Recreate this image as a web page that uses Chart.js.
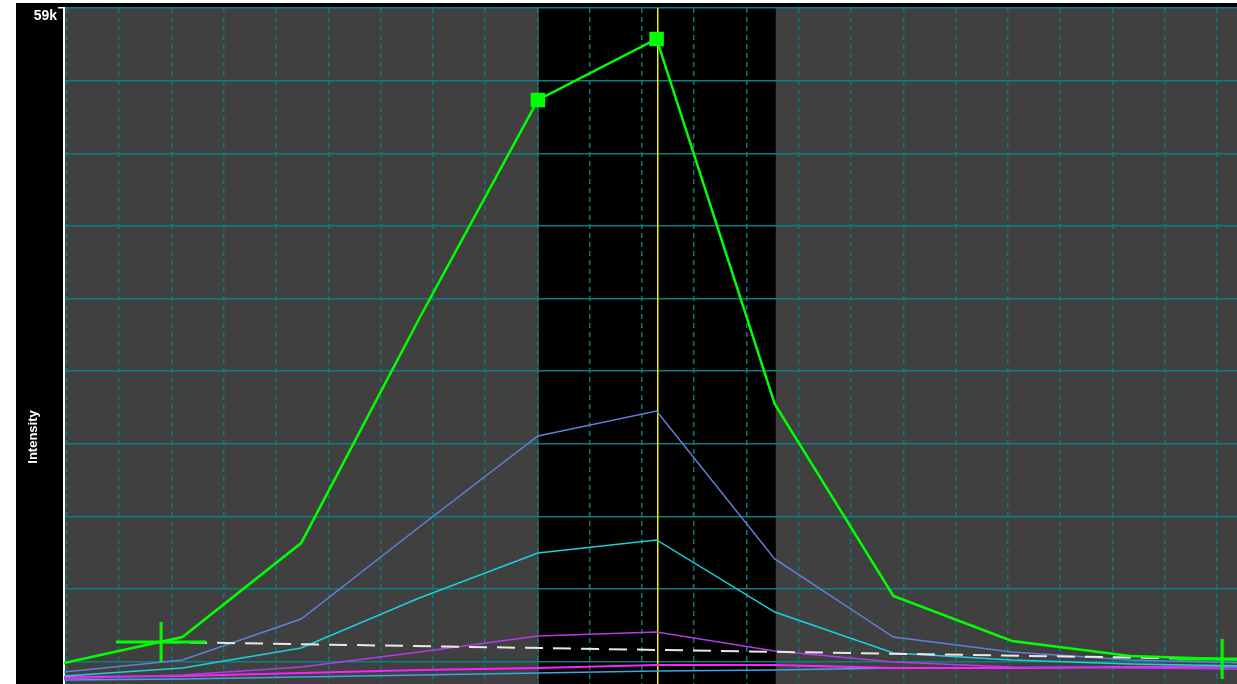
<!DOCTYPE html>
<html>
<head>
<meta charset="utf-8">
<title>Intensity trace</title>
<script src="https://cdn.jsdelivr.net/npm/chart.js@4/dist/chart.umd.min.js"></script>
<style>
  html, body { margin: 0; padding: 0; background: #fff; }
  canvas { display: block; }
</style>
</head>
<body>
<canvas id="trace" width="1237" height="684"></canvas>
<script>
// Retention times (min) of the scans
const times = [19.994, 20.221, 20.448, 20.674, 20.901, 21.128, 21.354, 21.581, 21.808, 22.034, 22.261];

// Transition intensities, one list per trace
const greenTrace   = [1830, 4100, 12300, 31900, 50970, 56300, 24440, 7680, 3750, 2440, 2100];
const slateTrace   = [1050, 2100, 5670, 13700, 21650, 23830, 10910, 4100, 2790, 2100, 1830];
const cyanTrace    = [700, 1400, 3140, 7500, 11430, 12570, 6280, 2710, 2100, 1750, 1570];
const purpleTrace  = [440, 790, 1480, 2790, 4190, 4540, 2880, 1920, 1480, 1400, 1310];
const magentaTrace = [610, 700, 960, 1220, 1400, 1660, 1660, 1400, 1400, 1480, 1570];
const skyTrace     = [350, 440, 610, 790, 960, 1140, 1220, 1400, 1400, 1480, 1480];

// Peak boundaries, baseline and apex
const peakBounds = [{ x: 20.180, y: 3670 }, { x: 22.210, y: 2180 }];
const integrationWindow = [20.903, 21.356];
const apexTime = 21.128;

// Axes
const xRange = [19.9943, 22.2384];
const xGrid = [20.0, 20.1, 20.2, 20.3, 20.4, 20.5, 20.6, 20.7, 20.8, 20.9, 21.0, 21.1,
               21.2, 21.3, 21.4, 21.5, 21.6, 21.7, 21.8, 21.9, 22.0, 22.1, 22.2];
const yRange = [0, 59000];
const yGrid = [59000, 52660, 46320, 39980, 33640, 27300, 20960, 14620, 8280, 1940];
const yTopLabel = '59k';
const yTitle = 'Intensity';

const pts = arr => arr.map((v, i) => ({ x: times[i], y: v }));

// cross used for the peak boundary markers
const cross = document.createElement('canvas');
cross.width = 90;
cross.height = 40;
(function () {
  const c = cross.getContext('2d');
  c.fillStyle = '#00ff00';
  c.fillRect(0, 18.5, 90, 3);
  c.fillRect(43.5, 0, 3, 40);
})();

const backdrop = {
  id: 'backdrop',
  beforeDraw(chart) {
    const { ctx, chartArea: a, scales: { x } } = chart;
    ctx.save();
    ctx.fillStyle = '#ffffff';
    ctx.fillRect(0, 0, chart.width, chart.height);
    ctx.fillStyle = '#000000';
    ctx.fillRect(16, 3, chart.width - 16, chart.height - 3);
    ctx.fillStyle = '#404040';
    ctx.fillRect(a.left, a.top, a.right - a.left, a.bottom - a.top);
    const l = x.getPixelForValue(integrationWindow[0]);
    const r = x.getPixelForValue(integrationWindow[1]);
    ctx.fillStyle = '#000000';
    ctx.fillRect(l, a.top, r - l, a.bottom - a.top);
    ctx.restore();
  },
  beforeDatasetsDraw(chart) {
    const { ctx, chartArea: a, scales: { x } } = chart;
    const px = Math.round(x.getPixelForValue(apexTime));
    ctx.save();
    ctx.fillStyle = '#f2f200';
    ctx.fillRect(px, a.top, 1.5, a.bottom - a.top);
    ctx.restore();
  },
  afterDraw(chart) {
    const ctx = chart.ctx;
    ctx.save();
    ctx.translate(33, 437);
    ctx.rotate(-Math.PI / 2);
    ctx.fillStyle = '#ffffff';
    ctx.font = 'bold 13px "Liberation Sans", Arial, sans-serif';
    ctx.textAlign = 'center';
    ctx.textBaseline = 'middle';
    ctx.fillText(yTitle, 0, 0);
    ctx.restore();
  }
};

const thin = (label, data, color, width) => ({
  label, data: pts(data), borderColor: color, borderWidth: width,
  pointRadius: 0, tension: 0
});

new Chart(document.getElementById('trace'), {
  type: 'line',
  data: {
    datasets: [
      {
        label: 'Boundaries', type: 'scatter', data: peakBounds,
        pointStyle: cross, pointRadius: 20, showLine: false
      },
      {
        label: 'Green', data: pts(greenTrace), borderColor: '#00ff00', borderWidth: 2.5,
        backgroundColor: '#00ff00', pointStyle: 'rect',
        pointRadius: times.map(t => (t === 20.901 || t === 21.128) ? 8.5 : 0),
        tension: 0
      },
      {
        label: 'Baseline', data: peakBounds, borderColor: '#e8e8e8', borderWidth: 2,
        borderDash: [18, 10], pointRadius: 0
      },
      thin('Slate', slateTrace, '#5f80dc', 1.5),
      thin('Cyan', cyanTrace, '#19d2dc', 1.5),
      thin('Purple', purpleTrace, '#b43ce6', 1.5),
      thin('Magenta', magentaTrace, '#ff22ff', 2),
      thin('Sky', skyTrace, '#38a8e0', 1.5)
    ]
  },
  options: {
    responsive: false,
    animation: false,
    devicePixelRatio: 1,
    layout: { autoPadding: false, padding: { left: 16, top: 8, right: 0, bottom: 0 } },
    plugins: { legend: { display: false }, tooltip: { enabled: false } },
    scales: {
      x: {
        type: 'linear',
        min: xRange[0],
        max: xRange[1],
        afterBuildTicks: s => { s.ticks = xGrid.map(v => ({ value: v })); },
        afterFit: s => { s.height = 0; s.paddingLeft = 0; s.paddingRight = 0; },
        ticks: { display: false },
        grid: { color: '#0a7878', lineWidth: 1.5, drawTicks: false },
        border: { display: false, dash: [5, 4] }
      },
      y: {
        type: 'linear',
        min: yRange[0],
        max: yRange[1],
        afterBuildTicks: s => { s.ticks = yGrid.map(v => ({ value: v })); },
        afterFit: s => { s.width = 48; s.paddingTop = 0; s.paddingBottom = 0; },
        ticks: {
          color: '#ffffff',
          font: { family: '"Liberation Sans", Arial, sans-serif', size: 14, weight: 'bold' },
          padding: 1,
          labelOffset: 8,
          callback: v => (v === yRange[1] ? yTopLabel : '')
        },
        grid: {
          color: '#0a8080', lineWidth: 1.5, tickLength: 6,
          tickColor: c => (c.tick && c.tick.value === yRange[1] ? '#ffffff' : 'rgba(0,0,0,0)')
        },
        border: { color: '#ffffff', width: 2 }
      }
    }
  },
  plugins: [backdrop]
});
</script>
</body>
</html>
